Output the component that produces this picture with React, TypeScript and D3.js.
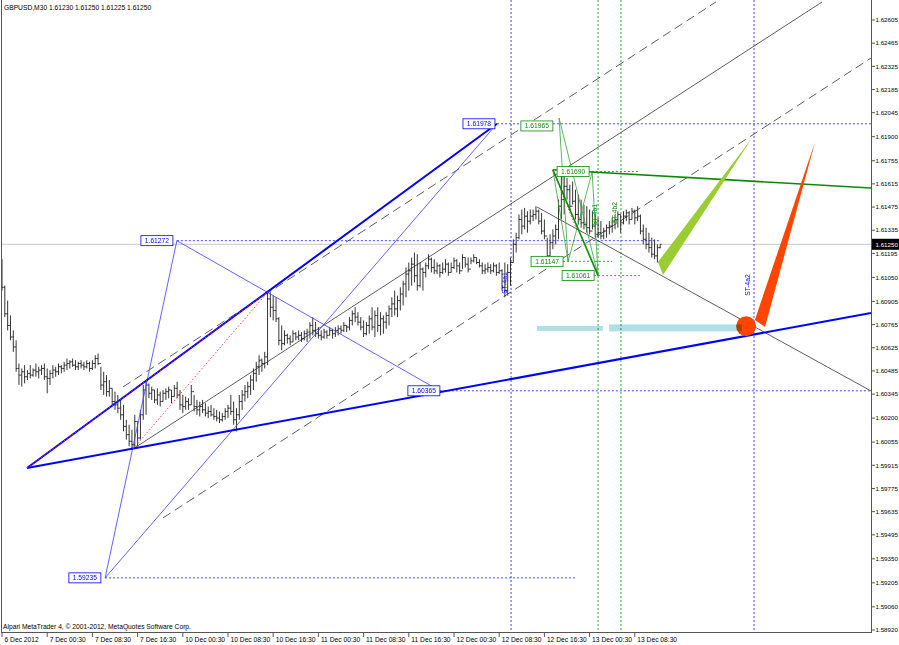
import * as React from 'react'
import * as d3 from 'd3'

// GBPUSD M30 bars, 6 Dec 16:30 .. 13 Dec 13:00 (bar index 0..233)
const highs = [
  1.6116, 1.6100, 1.6091, 1.6082, 1.6073, 1.6067, 1.6053, 1.6050, 1.6052, 1.6049,
  1.6052, 1.6050, 1.6053, 1.6051, 1.6052, 1.6053, 1.6050, 1.6049, 1.6052, 1.6051,
  1.6053, 1.6052, 1.6054, 1.6056, 1.6055, 1.6056, 1.6055, 1.6054, 1.6055, 1.6054,
  1.6055, 1.6054, 1.6055, 1.6058, 1.6059, 1.6051, 1.6048, 1.6046, 1.6043, 1.6038,
  1.6036, 1.6034, 1.6031, 1.6028, 1.6019, 1.6016, 1.6013, 1.6022, 1.6018, 1.6025,
  1.6040, 1.6043, 1.6041, 1.6039, 1.6037, 1.6038, 1.6036, 1.6037, 1.6038, 1.6039,
  1.6037, 1.6040, 1.6042, 1.6037, 1.6034, 1.6033, 1.6032, 1.6040, 1.6034, 1.6031,
  1.6030, 1.6031, 1.6029, 1.6027, 1.6028, 1.6026, 1.6025, 1.6024, 1.6023, 1.6026,
  1.6028, 1.6034, 1.6030, 1.6026, 1.6034, 1.6037, 1.6040, 1.6042, 1.6046, 1.6050,
  1.6054, 1.6058, 1.6056, 1.6060, 1.6096, 1.6096, 1.6094, 1.6093, 1.6081, 1.6076,
  1.6073, 1.6071, 1.6070, 1.6073, 1.6072, 1.6073, 1.6072, 1.6073, 1.6074, 1.6078,
  1.6081, 1.6078, 1.6075, 1.6073, 1.6074, 1.6073, 1.6075, 1.6074, 1.6075, 1.6076,
  1.6076, 1.6078, 1.6076, 1.6081, 1.6085, 1.6087, 1.6084, 1.6081, 1.6079, 1.6078,
  1.6082, 1.6087, 1.6085, 1.6087, 1.6084, 1.6082, 1.6084, 1.6088, 1.6093, 1.6097,
  1.6094, 1.6099, 1.6103, 1.6111, 1.6114, 1.6117, 1.6120, 1.6119, 1.6114, 1.6111,
  1.6114, 1.6119, 1.6117, 1.6116, 1.6114, 1.6113, 1.6114, 1.6116, 1.6114, 1.6114,
  1.6117, 1.6116, 1.6114, 1.6119, 1.6117, 1.6117, 1.6117, 1.6119, 1.6117, 1.6116,
  1.6114, 1.6113, 1.6114, 1.6113, 1.6114, 1.6113, 1.6114, 1.6110, 1.6114, 1.6113,
  1.6117, 1.6128, 1.6132, 1.6143, 1.6146, 1.6147, 1.6145, 1.6146, 1.6146, 1.6148,
  1.6146, 1.6144, 1.6140, 1.6129, 1.6131, 1.6134, 1.6137, 1.6152, 1.6168, 1.6167,
  1.6165, 1.6161, 1.6163, 1.6158, 1.6155, 1.6152, 1.6149, 1.6148, 1.6146, 1.6145,
  1.6143, 1.6141, 1.6139, 1.6135, 1.6137, 1.6139, 1.6141, 1.6143, 1.6145, 1.6143,
  1.6145, 1.6146, 1.6145, 1.6147, 1.6146, 1.6148, 1.6143, 1.6137, 1.6135, 1.6132,
  1.6129, 1.6128, 1.6125, 1.6125,
]
const lows = [
  1.6097, 1.6081, 1.6073, 1.6067, 1.6060, 1.6048, 1.6040, 1.6039, 1.6041, 1.6043,
  1.6044, 1.6045, 1.6045, 1.6044, 1.6046, 1.6043, 1.6035, 1.6040, 1.6044, 1.6045,
  1.6046, 1.6047, 1.6048, 1.6049, 1.6050, 1.6051, 1.6049, 1.6049, 1.6050, 1.6049,
  1.6050, 1.6048, 1.6049, 1.6050, 1.6052, 1.6037, 1.6034, 1.6033, 1.6033, 1.6028,
  1.6025, 1.6023, 1.6019, 1.6012, 1.6007, 1.6003, 1.6001, 1.6002, 1.6003, 1.6007,
  1.6019, 1.6022, 1.6032, 1.6031, 1.6029, 1.6028, 1.6027, 1.6030, 1.6031, 1.6032,
  1.6029, 1.6033, 1.6032, 1.6025, 1.6023, 1.6025, 1.6025, 1.6028, 1.6024, 1.6022,
  1.6021, 1.6023, 1.6021, 1.6020, 1.6021, 1.6019, 1.6018, 1.6017, 1.6018, 1.6019,
  1.6020, 1.6022, 1.6016, 1.6012, 1.6019, 1.6025, 1.6030, 1.6032, 1.6034, 1.6037,
  1.6042, 1.6046, 1.6048, 1.6050, 1.6052, 1.6081, 1.6079, 1.6078, 1.6064, 1.6061,
  1.6064, 1.6065, 1.6064, 1.6066, 1.6067, 1.6067, 1.6066, 1.6067, 1.6066, 1.6068,
  1.6070, 1.6069, 1.6068, 1.6067, 1.6068, 1.6068, 1.6070, 1.6068, 1.6069, 1.6070,
  1.6071, 1.6072, 1.6072, 1.6073, 1.6076, 1.6078, 1.6076, 1.6073, 1.6069, 1.6070,
  1.6071, 1.6073, 1.6069, 1.6072, 1.6070, 1.6071, 1.6074, 1.6076, 1.6081, 1.6082,
  1.6081, 1.6085, 1.6088, 1.6093, 1.6097, 1.6100, 1.6102, 1.6097, 1.6099, 1.6097,
  1.6105, 1.6110, 1.6108, 1.6107, 1.6107, 1.6105, 1.6107, 1.6108, 1.6106, 1.6108,
  1.6110, 1.6108, 1.6107, 1.6110, 1.6111, 1.6108, 1.6113, 1.6114, 1.6113, 1.6111,
  1.6107, 1.6107, 1.6108, 1.6107, 1.6108, 1.6106, 1.6107, 1.6097, 1.6093, 1.6094,
  1.6100, 1.6114, 1.6120, 1.6128, 1.6131, 1.6134, 1.6132, 1.6137, 1.6139, 1.6140,
  1.6137, 1.6131, 1.6128, 1.6114, 1.6117, 1.6122, 1.6125, 1.6128, 1.6140, 1.6143,
  1.6152, 1.6145, 1.6149, 1.6140, 1.6137, 1.6135, 1.6134, 1.6132, 1.6131, 1.6134,
  1.6129, 1.6129, 1.6128, 1.6128, 1.6129, 1.6131, 1.6132, 1.6134, 1.6135, 1.6132,
  1.6137, 1.6139, 1.6137, 1.6140, 1.6137, 1.6139, 1.6131, 1.6125, 1.6122, 1.6120,
  1.6117, 1.6116, 1.6114, 1.61225,
]
const closes = [
  1.6099, 1.6083, 1.6076, 1.6069, 1.6063, 1.6050, 1.6046, 1.6048, 1.6045, 1.6047,
  1.6046, 1.6049, 1.6048, 1.6049, 1.6050, 1.6045, 1.6044, 1.6047, 1.6049, 1.6048,
  1.6051, 1.6050, 1.6052, 1.6053, 1.6054, 1.6052, 1.6051, 1.6053, 1.6052, 1.6051,
  1.6053, 1.6050, 1.6053, 1.6056, 1.6053, 1.6040, 1.6042, 1.6036, 1.6038, 1.6030,
  1.6028, 1.6026, 1.6022, 1.6015, 1.6010, 1.6006, 1.6004, 1.6018, 1.6008, 1.6022,
  1.6037, 1.6040, 1.6035, 1.6037, 1.6031, 1.6034, 1.6030, 1.6035, 1.6036, 1.6037,
  1.6033, 1.6038, 1.6034, 1.6028, 1.6027, 1.6030, 1.6028, 1.6036, 1.6027, 1.6025,
  1.6027, 1.6025, 1.6023, 1.6024, 1.6022, 1.6021, 1.6020, 1.6019, 1.6021, 1.6024,
  1.6026, 1.6024, 1.6019, 1.6022, 1.6030, 1.6034, 1.6036, 1.6039, 1.6043, 1.6047,
  1.6051, 1.6055, 1.6053, 1.6057, 1.6092, 1.6087, 1.6085, 1.6080, 1.6067, 1.6065,
  1.6070, 1.6068, 1.6066, 1.6071, 1.6069, 1.6070, 1.6068, 1.6071, 1.6072, 1.6076,
  1.6073, 1.6071, 1.6070, 1.6069, 1.6072, 1.6070, 1.6073, 1.6071, 1.6073, 1.6074,
  1.6073, 1.6076, 1.6075, 1.6079, 1.6083, 1.6081, 1.6078, 1.6075, 1.6071, 1.6076,
  1.6080, 1.6075, 1.6082, 1.6076, 1.6080, 1.6078, 1.6082, 1.6086, 1.6089, 1.6086,
  1.6091, 1.6095, 1.6101, 1.6107, 1.6109, 1.6113, 1.6106, 1.6100, 1.6110, 1.6108,
  1.6112, 1.6116, 1.6111, 1.6109, 1.6112, 1.6108, 1.6110, 1.6113, 1.6108, 1.6111,
  1.6115, 1.6112, 1.6109, 1.6117, 1.6113, 1.6110, 1.6115, 1.6117, 1.6114, 1.6112,
  1.6109, 1.6110, 1.6111, 1.6109, 1.6112, 1.6108, 1.6109, 1.6099, 1.6097, 1.6108,
  1.6114, 1.6125, 1.6129, 1.6140, 1.6136, 1.6142, 1.6139, 1.6142, 1.6143, 1.6145,
  1.6139, 1.6133, 1.6130, 1.6118, 1.6126, 1.6130, 1.6134, 1.6148, 1.6152, 1.6160,
  1.6158, 1.6148, 1.6151, 1.6143, 1.6140, 1.6138, 1.6137, 1.6135, 1.6133, 1.6136,
  1.6131, 1.6132, 1.6130, 1.6133, 1.6135, 1.6136, 1.6139, 1.6140, 1.6143, 1.6138,
  1.6142, 1.6144, 1.6140, 1.6145, 1.6141, 1.6142, 1.6133, 1.6128, 1.6125, 1.6123,
  1.6119, 1.6118, 1.6123, 1.6125,
]
const firstOpen = 1.6114

const timeLabels = [
  '6 Dec 2012', '7 Dec 00:30', '7 Dec 08:30', '7 Dec 16:30', '10 Dec 00:30',
  '10 Dec 08:30', '10 Dec 16:30', '11 Dec 00:30', '11 Dec 08:30', '11 Dec 16:30',
  '12 Dec 00:30', '12 Dec 08:30', '12 Dec 16:30', '13 Dec 00:30', '13 Dec 08:30',
]
const barsPerLabel = 16
const priceTicks = [
  '1.62605', '1.62465', '1.62325', '1.62185', '1.62045', '1.61900', '1.61755',
  '1.61615', '1.61475', '1.61335', '1.61195', '1.61050', '1.60905', '1.60765',
  '1.60625', '1.60485', '1.60345', '1.60200', '1.60055', '1.59915', '1.59775',
  '1.59635', '1.59495', '1.59350', '1.59205', '1.59060', '1.58920',
]
const lastPrice = 1.6125

// drawing objects, anchors as [bar index, price]
type Pt = [number, number]
const thickBlue: [Pt, Pt][] = [
  [[8.85, 1.59899], [175.2, 1.61978]],
  [[8.85, 1.59899], [307.6, 1.60835]],
]
const thinBlue: [Pt, Pt][] = [
  [[36.5, 1.59235], [61.9, 1.61272]],
  [[61.9, 1.61272], [155.0, 1.60365]],
  [[36.5, 1.59235], [175.2, 1.61978]],
]
const redDotted: [Pt, Pt][] = [
  [[8.85, 1.59899], [94.2, 1.60964]],
  [[46.4, 1.60014], [94.2, 1.60964]],
  [[195.0, 1.61700], [203.5, 1.61336]],
]
const blackSolid: [Pt, Pt][] = [
  [[46.4, 1.60014], [290.3, 1.62714]],
  [[189.4, 1.61475], [307.6, 1.60364]],
]
const blackDashed: [Pt, Pt][] = [
  [[42.8, 1.60388], [252.7, 1.62714]],
  [[57.0, 1.59597], [307.6, 1.62375]],
]
const greenThick: [Pt, Pt][] = [
  [[195.0, 1.61700], [307.6, 1.61590]],
  [[195.0, 1.61700], [211.0, 1.61061]],
]
const greenThin: [Pt, Pt][] = [
  [[195.0, 1.61700], [200.4, 1.61147]],
  [[197.2, 1.62013], [200.4, 1.61147]],
  [[197.2, 1.62013], [211.0, 1.61061]],
  [[200.4, 1.61147], [208.9, 1.61687]],
  [[208.9, 1.61687], [211.0, 1.61061]],
]
// horizontal dotted levels: [from index, to index, price]
const blueLevels: [number, number, number][] = [
  [175.2, 307.6, 1.61978],
  [61.9, 233.0, 1.61272],
  [155.0, 307.6, 1.60365],
  [36.5, 203.5, 1.59235],
]
const greenLevels: [number, number, number][] = [
  [207.4, 225.1, 1.6169],
  [198.6, 216.0, 1.61147],
  [209.6, 225.8, 1.61061],
]
const blueVerticals = [180.2, 266.2]
const greenVerticals = [211.0, 219.1]
// price boxes: [index, price, text, side of anchor]
const blueBoxes: [number, number, string, 'l' | 'r'][] = [
  [174.5, 1.61978, '1.61978', 'l'],
  [60.5, 1.61272, '1.61272', 'l'],
  [35.0, 1.59235, '1.59235', 'l'],
  [155.0, 1.60365, '1.60365', 'l'],
]
const greenBoxes: [number, number, string, 'l' | 'r'][] = [
  [195.0, 1.61965, '1.61965', 'l'],
  [196.5, 1.6169, '1.61690', 'r'],
  [198.6, 1.61147, '1.61147', 'l'],
  [209.6, 1.61061, '1.61061', 'l'],
]
const greenWedge: Pt[] = [[232.2, 1.61143], [234.0, 1.61065], [265.5, 1.61892]]
const redWedge: Pt[] = [[266.5, 1.60793], [270.1, 1.60751], [287.8, 1.61868]]
const redDot: Pt = [263.4, 1.60755]
const cyanBars: [number, number, number][] = [
  [189.4, 212.7, 1.60742],
  [214.9, 261.9, 1.60745],
]
const blueTags: [number, number, string][] = [
  [178.0, 1.61016, 'ST-4a1'],
  [264.0, 1.61004, 'ST-4a2'],
]
const greenTags: [number, number, string][] = [
  [209.9, 1.61428, 'ST-4b1'],
  [217.0, 1.6144, 'ST-4b2'],
]

const FONT = "Tahoma, 'Liberation Sans', Arial, sans-serif"
const FS = 6.7
const AXFS = 6.2
const BLUE = '#0000ff'
const LBLUE = '#4646ff'
const GREEN = '#0a8a0a'
const LGREEN = '#35a535'

export default function App() {
  const W = 899
  const H = 645
  const right = 871
  const bottom = 632
  const x = d3.scaleLinear().domain([0, 300]).range([2, 849.5])
  const y = d3.scaleLinear().domain([1.5892, 1.62605]).range([630, 20])
  const opens = closes.map((c, i) => (i === 0 ? firstOpen : closes[i - 1]))

  let barPath = ''
  highs.forEach((h, i) => {
    const xi = x(i)
    barPath += `M${xi},${y(h)}V${y(lows[i])}M${xi - 1.4},${y(opens[i])}H${xi}M${xi},${y(closes[i])}H${xi + 1.4}`
  })

  const seg = (s: [Pt, Pt], k: string, stroke: string, w: number, dash?: string) => (
    <line key={k} x1={x(s[0][0])} y1={y(s[0][1])} x2={x(s[1][0])} y2={y(s[1][1])}
      stroke={stroke} strokeWidth={w} strokeDasharray={dash} />
  )
  const poly = d3.line<Pt>().x(d => x(d[0])).y(d => y(d[1]))

  const box = (b: [number, number, string, 'l' | 'r'], k: string, color: string) => {
    const w = 32
    const h = 10
    const px = x(b[0])
    const bx = b[3] === 'l' ? px - w : px
    const py = y(b[1])
    return (
      <g key={k}>
        <rect x={bx} y={py - h / 2} width={w} height={h} fill="#fff" stroke={color} strokeWidth={0.8} />
        <text x={bx + w / 2} y={py} dy="0.36em" textAnchor="middle" fill={color} fontSize={FS}>{b[2]}</text>
      </g>
    )
  }

  return (
    <svg width={W} height={H} style={{ position: 'absolute', left: 0, top: 0, background: '#fff' }}
      fontFamily={FONT}>
      <defs>
        <clipPath id="plot"><rect x={1} y={0} width={right - 1} height={bottom} /></clipPath>
      </defs>
      <g clipPath="url(#plot)">
        <line x1={1} x2={right} y1={y(lastPrice)} y2={y(lastPrice)} stroke="#c8c8c8" strokeWidth={1} />
        {blueVerticals.map((v, i) => (
          <line key={'bv' + i} x1={x(v)} x2={x(v)} y1={0} y2={bottom} stroke={LBLUE} strokeWidth={1} strokeDasharray="2,2" />
        ))}
        {greenVerticals.map((v, i) => (
          <line key={'gv' + i} x1={x(v)} x2={x(v)} y1={0} y2={bottom} stroke={LGREEN} strokeWidth={1} strokeDasharray="2,2" />
        ))}
        {blueLevels.map((l, i) => (
          <line key={'bl' + i} x1={x(l[0])} x2={x(l[1])} y1={y(l[2])} y2={y(l[2])} stroke={LBLUE} strokeWidth={1} strokeDasharray="2,2" />
        ))}
        {greenLevels.map((l, i) => (
          <line key={'gl' + i} x1={x(l[0])} x2={x(l[1])} y1={y(l[2])} y2={y(l[2])} stroke={LGREEN} strokeWidth={1} strokeDasharray="2,2" />
        ))}
        {blackSolid.map((s, i) => seg(s, 'bs' + i, '#333', 0.8))}
        {blackDashed.map((s, i) => seg(s, 'bd' + i, '#333', 0.8, '9,5'))}
        <path d={barPath} stroke="#1e1e1e" strokeWidth={0.9} fill="none" />
        {thinBlue.map((s, i) => seg(s, 'tb' + i, LBLUE, 0.85))}
        {thickBlue.map((s, i) => seg(s, 'kb' + i, BLUE, 2))}
        {redDotted.map((s, i) => seg(s, 'rd' + i, '#ff3030', 0.9, '1.5,2'))}
        {greenThin.map((s, i) => seg(s, 'gt' + i, LGREEN, 0.8))}
        {greenThick.map((s, i) => seg(s, 'gk' + i, GREEN, 1.6))}
        <path d={poly(greenWedge) + 'Z'} fill="#9acd32" />
        <path d={poly(redWedge) + 'Z'} fill="#ff4500" />
        <circle cx={x(redDot[0])} cy={y(redDot[1])} r={10} fill="#ff4500" />
        {cyanBars.map((c, i) => (
          <rect key={'cb' + i} x={x(c[0])} width={x(c[1]) - x(c[0])} y={y(c[2]) - (i === 0 ? 2.5 : 3.5)}
            height={i === 0 ? 5 : 7} fill="#b0e0e6" style={{ mixBlendMode: 'multiply' }} />
        ))}
        {blueBoxes.map((b, i) => box(b, 'bb' + i, BLUE))}
        {greenBoxes.map((b, i) => box(b, 'gb' + i, GREEN))}
        {blueTags.map((t, i) => (
          <text key={'bt' + i} transform={`translate(${x(t[0]) + 2},${y(t[1])}) rotate(-90)`} textAnchor="middle"
            fontSize={FS} fill={BLUE}>{t[2]}</text>
        ))}
        {greenTags.map((t, i) => (
          <text key={'gtg' + i} transform={`translate(${x(t[0]) + 2},${y(t[1])}) rotate(-90)`} textAnchor="middle"
            fontSize={FS} fill={GREEN}>{t[2]}</text>
        ))}
      </g>

      {/* frame */}
      <line x1={1.5} x2={1.5} y1={0} y2={bottom} stroke="#555" strokeWidth={1} />
      <line x1={1} x2={right} y1={bottom + 0.5} y2={bottom + 0.5} stroke="#555" strokeWidth={1} />
      <line x1={right + 0.5} x2={right + 0.5} y1={0} y2={bottom + 1} stroke="#555" strokeWidth={1} />

      {/* price axis */}
      {priceTicks.map(t => (
        <g key={t}>
          <line x1={right} x2={right + 4} y1={y(+t)} y2={y(+t)} stroke="#555" />
          <text x={right + 4.5} y={y(+t)} dy="0.36em" fontSize={AXFS} fill="#000">{t}</text>
        </g>
      ))}
      <rect x={right + 1} y={y(lastPrice) - 5.5} width={W - right - 1} height={11} fill="#000" />
      <text x={right + 4.5} y={y(lastPrice)} dy="0.36em" fontSize={AXFS} fill="#fff">{lastPrice.toFixed(5)}</text>

      {/* time axis */}
      {timeLabels.map((t, i) => {
        const tx = x(i * barsPerLabel)
        return (
          <g key={t}>
            <line x1={tx} x2={tx} y1={bottom} y2={bottom + 5} stroke="#555" />
            <text x={tx + 2.5} y={bottom + 10} fontSize={FS} fill="#000">{t}</text>
          </g>
        )
      })}

      <text x={4} y={10} fontSize={FS} fill="#000">GBPUSD,M30  1.61230 1.61250 1.61225 1.61250</text>
      <text x={3} y={629} fontSize={FS} fill="#000">Alpari MetaTrader 4, © 2001-2012, MetaQuotes Software Corp.</text>
    </svg>
  )
}
